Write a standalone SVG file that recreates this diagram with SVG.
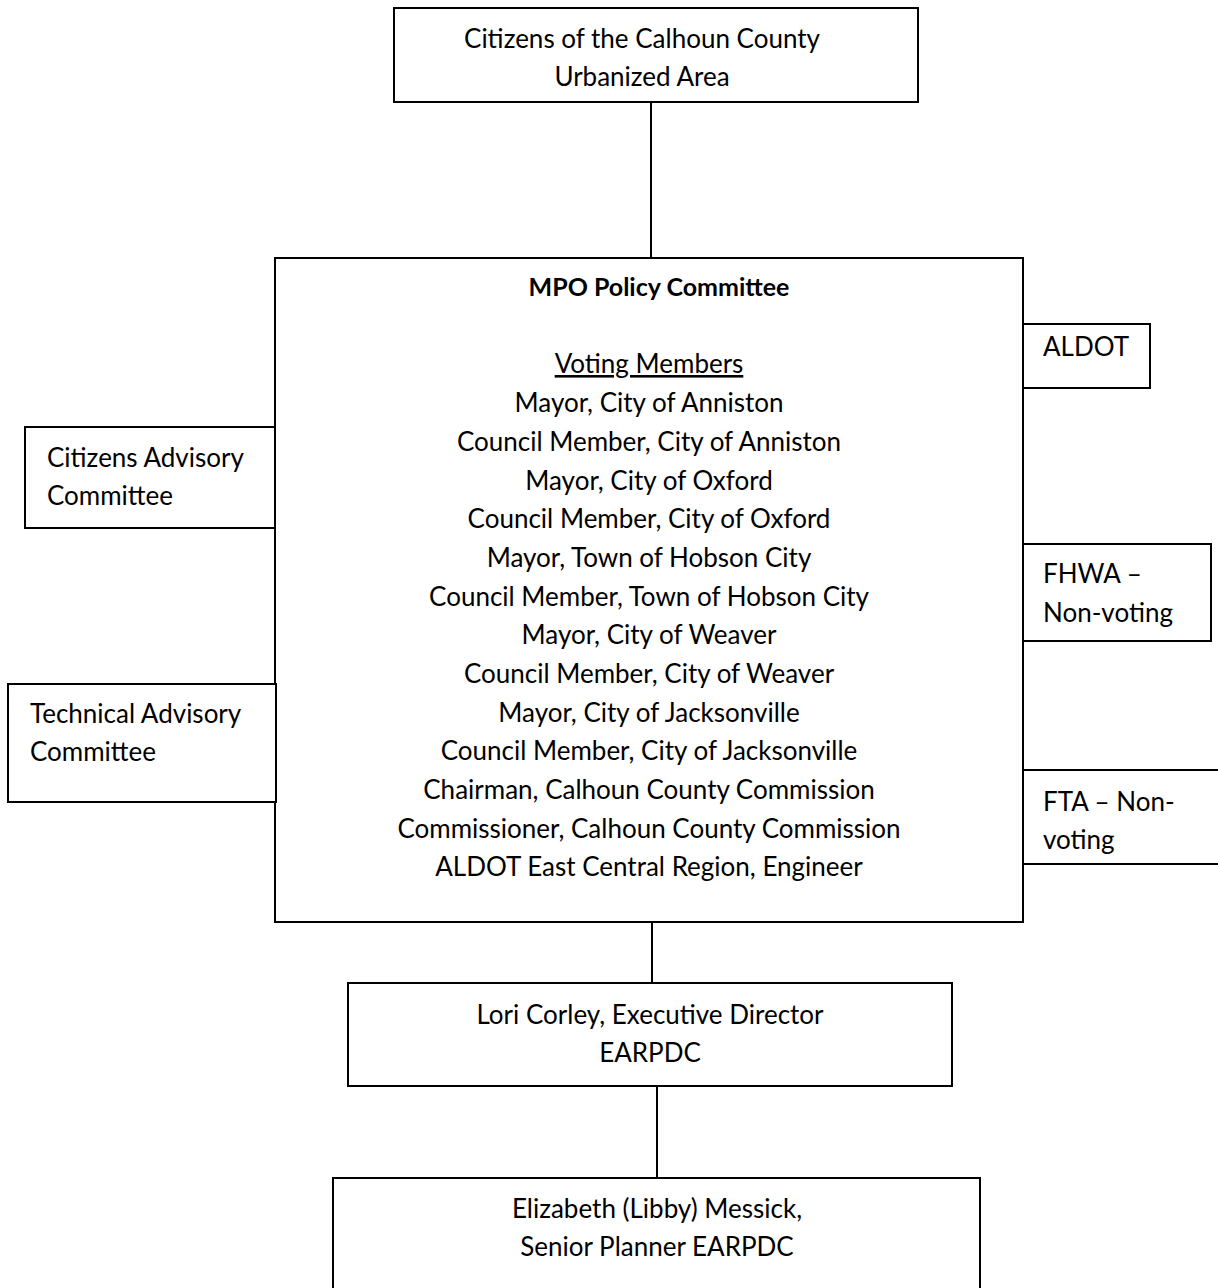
<svg xmlns="http://www.w3.org/2000/svg" width="1218" height="1288" viewBox="0 0 1218 1288">
<style>
.box{fill:#fff;stroke:#000;stroke-width:2}
.ln{stroke:#000;stroke-width:2;fill:none}
text{font-family:Lato,"Open Sans","Liberation Sans",sans-serif;font-size:26px;fill:#000}
.c{text-anchor:middle}
.b{font-weight:bold;font-size:25px}
</style>
<rect x="0" y="0" width="1218" height="1288" fill="#fff"/>
<g id="connectors">
<line class="ln" x1="651" y1="102" x2="651" y2="262"/>
<line class="ln" x1="652" y1="922" x2="652" y2="983"/>
<line class="ln" x1="657" y1="1086" x2="657" y2="1178"/>
</g>
<g id="citizens">
<rect class="box" x="394" y="8" width="524" height="94"/>
<text class="c" x="642" y="48">Citizens of the Calhoun County</text>
<text class="c" x="642" y="86">Urbanized Area</text>
</g>
<g id="mpo">
<rect class="box" x="275" y="258" width="748" height="664"/>
<text class="c b" x="659" y="296">MPO Policy Committee</text>
<text class="c" x="649" y="373" text-decoration="underline">Voting Members</text>
<text class="c" x="649" y="412">Mayor, City of Anniston</text>
<text class="c" x="649" y="451">Council Member, City of Anniston</text>
<text class="c" x="649" y="490">Mayor, City of Oxford</text>
<text class="c" x="649" y="528">Council Member, City of Oxford</text>
<text class="c" x="649" y="567">Mayor, Town of Hobson City</text>
<text class="c" x="649" y="606">Council Member, Town of Hobson City</text>
<text class="c" x="649" y="644">Mayor, City of Weaver</text>
<text class="c" x="649" y="683">Council Member, City of Weaver</text>
<text class="c" x="649" y="722">Mayor, City of Jacksonville</text>
<text class="c" x="649" y="760">Council Member, City of Jacksonville</text>
<text class="c" x="649" y="799">Chairman, Calhoun County Commission</text>
<text class="c" x="649" y="838">Commissioner, Calhoun County Commission</text>
<text class="c" x="649" y="876">ALDOT East Central Region, Engineer</text>
</g>
<g id="cac">
<rect class="box" x="25" y="427" width="250" height="101"/>
<text x="47" y="467">Citizens Advisory</text>
<text x="47" y="505">Committee</text>
</g>
<g id="tac">
<rect class="box" x="8" y="684" width="268" height="118"/>
<text x="30" y="723">Technical Advisory</text>
<text x="30" y="761">Committee</text>
</g>
<g id="aldot">
<rect class="box" x="1023" y="324" width="127" height="64"/>
<text x="1043" y="356">ALDOT</text>
</g>
<g id="fhwa">
<rect class="box" x="1023" y="544" width="188" height="97"/>
<text x="1043" y="583">FHWA –</text>
<text x="1043" y="622">Non-voting</text>
</g>
<g id="fta">
<path class="ln" d="M1218 770 H1023 V864 H1218" fill="#fff"/>
<text x="1043" y="811">FTA – Non-</text>
<text x="1043" y="849">voting</text>
</g>
<g id="lori">
<rect class="box" x="348" y="983" width="604" height="103"/>
<text class="c" x="650" y="1024">Lori Corley, Executive Director</text>
<text class="c" x="650" y="1062">EARPDC</text>
</g>
<g id="libby">
<rect class="box" x="333" y="1178" width="647" height="120"/>
<text class="c" x="657" y="1218">Elizabeth (Libby) Messick,</text>
<text class="c" x="657" y="1256">Senior Planner EARPDC</text>
</g>
</svg>
